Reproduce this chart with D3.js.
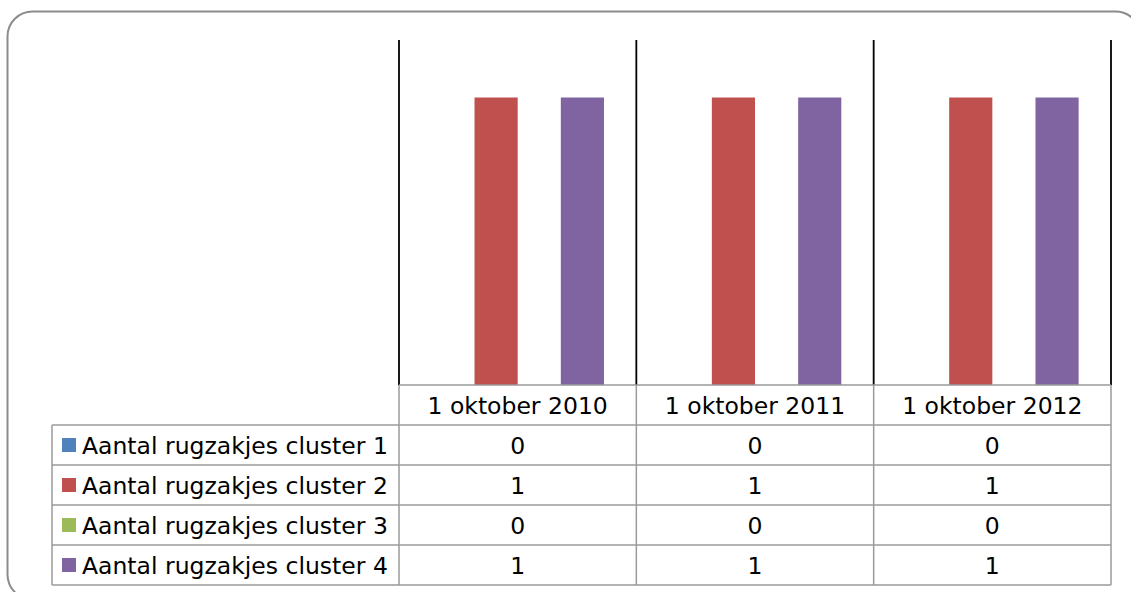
<!DOCTYPE html>
<html>
<head>
<meta charset="utf-8">
<script src="https://cdn.jsdelivr.net/npm/d3@7"></script>
<style>
  body { margin: 0; background: #fff; }
  text { font-family: "DejaVu Sans", sans-serif; fill: #000; }
</style>
</head>
<body>
<svg id="chart" width="1131" height="592"></svg>
<script>
// data
var categories = ["1 oktober 2010", "1 oktober 2011", "1 oktober 2012"]
var seriesNames = ["Aantal rugzakjes cluster 1", "Aantal rugzakjes cluster 2",
                   "Aantal rugzakjes cluster 3", "Aantal rugzakjes cluster 4"]
var seriesValues = [
  [0, 0, 0],
  [1, 1, 1],
  [0, 0, 0],
  [1, 1, 1]
]
var colors = ["#4F81BD", "#C0504D", "#9BBB59", "#8064A2"]

var svg = d3.select("#chart")
var fontSize = 23.5

// chart area frame
svg.append("rect")
  .attr("x", 7.5).attr("y", 11.5)
  .attr("width", 1133).attr("height", 588)
  .attr("rx", 25).attr("ry", 25)
  .attr("fill", "#fff").attr("stroke", "#8c8c8c").attr("stroke-width", 2)

var plotLeft = 399, plotRight = 1111, plotTop = 40, plotBottom = 385
var rowH = 40, labelLeft = 52

var x = d3.scaleBand().domain(categories).range([plotLeft, plotRight]).padding(0)
var xs = d3.scaleBand().domain(d3.range(seriesNames.length))
  .range([0, x.bandwidth()]).paddingInner(0).paddingOuter(0.75)
var y = d3.scaleLinear().domain([0, 1.2]).range([plotBottom, plotTop])

// bars
seriesNames.forEach(function(name, si) {
  svg.append("g").selectAll("rect")
    .data(seriesValues[si])
    .enter().append("rect")
    .attr("x", function(d, i) { return x(categories[i]) + xs(si) })
    .attr("y", function(d) { return y(d) })
    .attr("width", xs.bandwidth())
    .attr("height", function(d) { return y(0) - y(d) })
    .attr("fill", colors[si])
})

// vertical separators in the plot
var bounds = categories.map(function(c) { return x(c) }).concat([plotRight])
svg.append("g").selectAll("line")
  .data(bounds)
  .enter().append("line")
  .attr("x1", function(d) { return d }).attr("x2", function(d) { return d })
  .attr("y1", plotTop).attr("y2", plotBottom)
  .attr("stroke", "#000").attr("stroke-width", 1.8)

// data table
var grid = svg.append("g").attr("stroke", "#9a9a9a").attr("stroke-width", 1.5).attr("fill", "none")
var tableBottom = plotBottom + rowH * (seriesNames.length + 1)

// horizontal lines
grid.append("line").attr("x1", plotLeft).attr("x2", plotRight).attr("y1", plotBottom).attr("y2", plotBottom)
for (var r = 1; r <= seriesNames.length + 1; r++) {
  var yy = plotBottom + rowH * r
  grid.append("line").attr("x1", labelLeft).attr("x2", plotRight).attr("y1", yy).attr("y2", yy)
}
// vertical lines
grid.append("line").attr("x1", labelLeft).attr("x2", labelLeft)
  .attr("y1", plotBottom + rowH).attr("y2", tableBottom)
bounds.forEach(function(b) {
  grid.append("line").attr("x1", b).attr("x2", b).attr("y1", plotBottom).attr("y2", tableBottom)
})

// header labels
svg.append("g").selectAll("text")
  .data(categories)
  .enter().append("text")
  .attr("x", function(d) { return x(d) + x.bandwidth() / 2 })
  .attr("y", plotBottom + rowH / 2 + 8.5)
  .attr("text-anchor", "middle")
  .attr("font-size", fontSize)
  .text(function(d) { return d })

// series rows
seriesNames.forEach(function(name, si) {
  var cy = plotBottom + rowH * (si + 1) + rowH / 2
  svg.append("rect")
    .attr("x", 62).attr("y", cy - 7).attr("width", 14).attr("height", 14)
    .attr("fill", colors[si])
  svg.append("text")
    .attr("x", 82).attr("y", cy + 8.5)
    .attr("font-size", fontSize)
    .text(name)
  svg.append("g").selectAll("text")
    .data(seriesValues[si])
    .enter().append("text")
    .attr("x", function(d, i) { return x(categories[i]) + x.bandwidth() / 2 })
    .attr("y", cy + 8.5)
    .attr("text-anchor", "middle")
    .attr("font-size", fontSize)
    .text(function(d) { return d })
})
</script>
</body>
</html>
